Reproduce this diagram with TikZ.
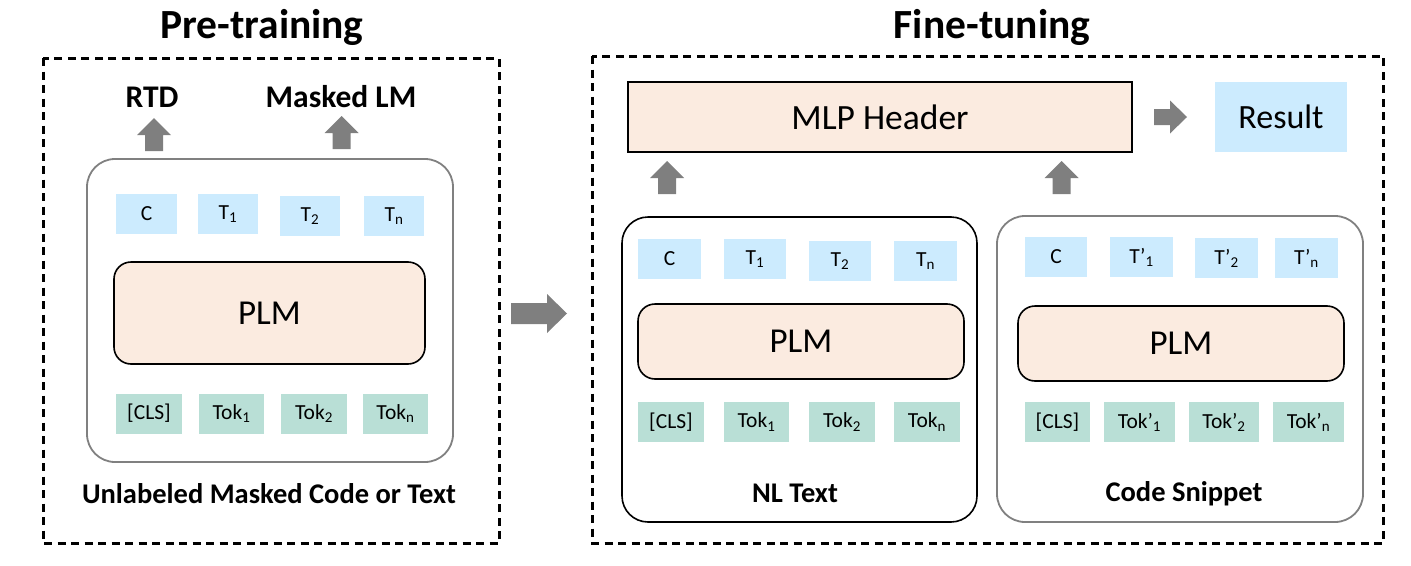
\documentclass[tikz,border=0pt]{standalone}
\usepackage{fontspec}
\setmainfont{Carlito}
\definecolor{tokblue}{HTML}{CCEBFE}
\definecolor{tokgreen}{HTML}{B9DFD6}
\definecolor{plmfill}{HTML}{FBEBE0}
\definecolor{arrowgray}{HTML}{7F7F7F}
\definecolor{boxgray}{HTML}{808080}
\tikzset{
  tok/.style={inner sep=0pt, minimum height=40pt, font=\fontsize{21.5}{21.5}\selectfont},
  tokb/.style={tok, fill=tokblue},
  tokg/.style={tok, fill=tokgreen},
  plmbox/.style={draw=black, line width=1.6pt, fill=plmfill, rounded corners=17pt, inner sep=0pt, font=\fontsize{35}{35}\selectfont},
  outerbox/.style={draw=black, line width=3pt, dash pattern=on 8pt off 5.5pt},
  graybox/.style={draw=boxgray, line width=1.8pt, rounded corners=28pt, inner sep=0pt},
  blackbox/.style={draw=black, line width=1.6pt, rounded corners=26pt, inner sep=0pt},
  lbl/.style={font=\bfseries\fontsize{28.5}{28.5}\selectfont, anchor=base, inner sep=0pt},
  title/.style={font=\bfseries\fontsize{41.5}{41.5}\selectfont, anchor=base, inner sep=0pt},
  uparrow/.pic={\fill[arrowgray] (-9,0) -- (-9,-16) -- (-17,-16) -- (0,-33) -- (17,-16) -- (9,-16) -- (9,0) -- cycle;},
  rightarrow/.pic={\fill[arrowgray] (0,-8) -- (16,-8) -- (16,-16.5) -- (33,0) -- (16,16.5) -- (16,8) -- (0,8) -- cycle;},
  bigrightarrow/.pic={\fill[arrowgray] (0,-10.5) -- (36,-10.5) -- (36,-19.5) -- (56,0) -- (36,19.5) -- (36,10.5) -- (0,10.5) -- cycle;}
}
\begin{document}
\begin{tikzpicture}[x=1pt,y=-1pt]
\useasboundingbox (0,0) rectangle (1411,565);
% ---------- Pre-training ----------
\node[title] (pretitle) at (262,38) {Pre-training};
\draw[outerbox] (43,58) rectangle (499,543);
\node[graybox, minimum width=366pt, minimum height=303pt] (lbox) at (270,310.5) {};
\node[tokb, minimum width=61pt] (lc) at (146.5,214) {C};
\node[tokb, minimum width=60pt] (lt1) at (228,214) {T\textsubscript{1}};
\node[tokb, minimum width=60pt] (lt2) at (310,216) {T\textsubscript{2}};
\node[tokb, minimum width=60pt] (ltn) at (394,216) {T\textsubscript{n}};
\node[plmbox, minimum width=311pt, minimum height=102pt] (lplm) at (269.5,313) {PLM};
\node[tokg, minimum width=66pt] (lcls) at (149,413.5) {[CLS]};
\node[tokg, minimum width=65pt] (ltok1) at (231.5,413.5) {Tok\textsubscript{1}};
\node[tokg, minimum width=66pt] (ltok2) at (314,413.5) {Tok\textsubscript{2}};
\node[tokg, minimum width=65pt] (ltokn) at (395.5,413.5) {Tok\textsubscript{n}};
\node[lbl] (llabel) at (269,503) {Unlabeled Masked Code or Text};
\node[lbl, font=\bfseries\fontsize{31.5}{31.5}\selectfont] (rtd) at (152,107) {RTD};
\node[lbl, font=\bfseries\fontsize{31.5}{31.5}\selectfont] (mlm) at (341,107) {Masked LM};
\pic at (154,151) {uparrow};
\pic at (341.5,149) {uparrow};
% ---------- middle arrow ----------
\pic at (511,313.5) {bigrightarrow};
% ---------- Fine-tuning ----------
\node[title] (ftitle) at (992,38) {Fine-tuning};
\draw[outerbox] (592,56) rectangle (1383,543);
\node[draw=black, line width=2pt, fill=plmfill, minimum width=504pt, minimum height=70pt, inner sep=0pt, font=\fontsize{35.5}{35.5}\selectfont] (mlp) at (880,117) {MLP Header};
\node[fill=tokblue, minimum width=132pt, minimum height=70pt, inner sep=0pt, font=\fontsize{34}{34}\selectfont] (result) at (1281,117) {Result};
\pic at (1154,117) {rightarrow};
\pic at (667,194) {uparrow};
\pic at (1061.5,194) {uparrow};
% NL text box
\node[blackbox, minimum width=355pt, minimum height=305pt] (nlbox) at (799.5,369.5) {};
\node[tokb, minimum width=63pt] (nc) at (669.5,259) {C};
\node[tokb, minimum width=62pt] (nt1) at (755,259) {T\textsubscript{1}};
\node[tokb, minimum width=62pt] (nt2) at (840,261) {T\textsubscript{2}};
\node[tokb, minimum width=63pt] (ntn) at (925.5,261) {T\textsubscript{n}};
\node[plmbox, minimum width=326pt, minimum height=75pt] (nplm) at (801,341.5) {PLM};
\node[tokg, minimum width=66pt] (ncls) at (671,422) {[CLS]};
\node[tokg, minimum width=65pt] (ntok1) at (756.5,422) {Tok\textsubscript{1}};
\node[tokg, minimum width=66pt] (ntok2) at (842,422) {Tok\textsubscript{2}};
\node[tokg, minimum width=66pt] (ntokn) at (927,422) {Tok\textsubscript{n}};
\node[lbl] (nlabel) at (795,502) {NL Text};
% Code snippet box
\node[graybox, minimum width=366pt, minimum height=306pt] (cbox) at (1180,369) {};
\node[tokb, minimum width=62pt] (cc) at (1056,257) {C};
\node[tokb, minimum width=63pt] (ct1) at (1141.5,257) {T’\textsubscript{1}};
\node[tokb, minimum width=63pt] (ct2) at (1226.5,258) {T’\textsubscript{2}};
\node[tokb, minimum width=63pt] (ctn) at (1306.5,258) {T’\textsubscript{n}};
\node[plmbox, minimum width=326pt, minimum height=75pt] (cplm) at (1181,343.5) {PLM};
\node[tokg, minimum width=65pt] (ccls) at (1057.5,422) {[CLS]};
\node[tokg, minimum width=71pt] (ctok1) at (1139.5,422) {Tok’\textsubscript{1}};
\node[tokg, minimum width=70pt] (ctok2) at (1224,422) {Tok’\textsubscript{2}};
\node[tokg, minimum width=71pt] (ctokn) at (1308.5,422) {Tok’\textsubscript{n}};
\node[lbl] (clabel) at (1184,501) {Code Snippet};
\end{tikzpicture}
\end{document}
